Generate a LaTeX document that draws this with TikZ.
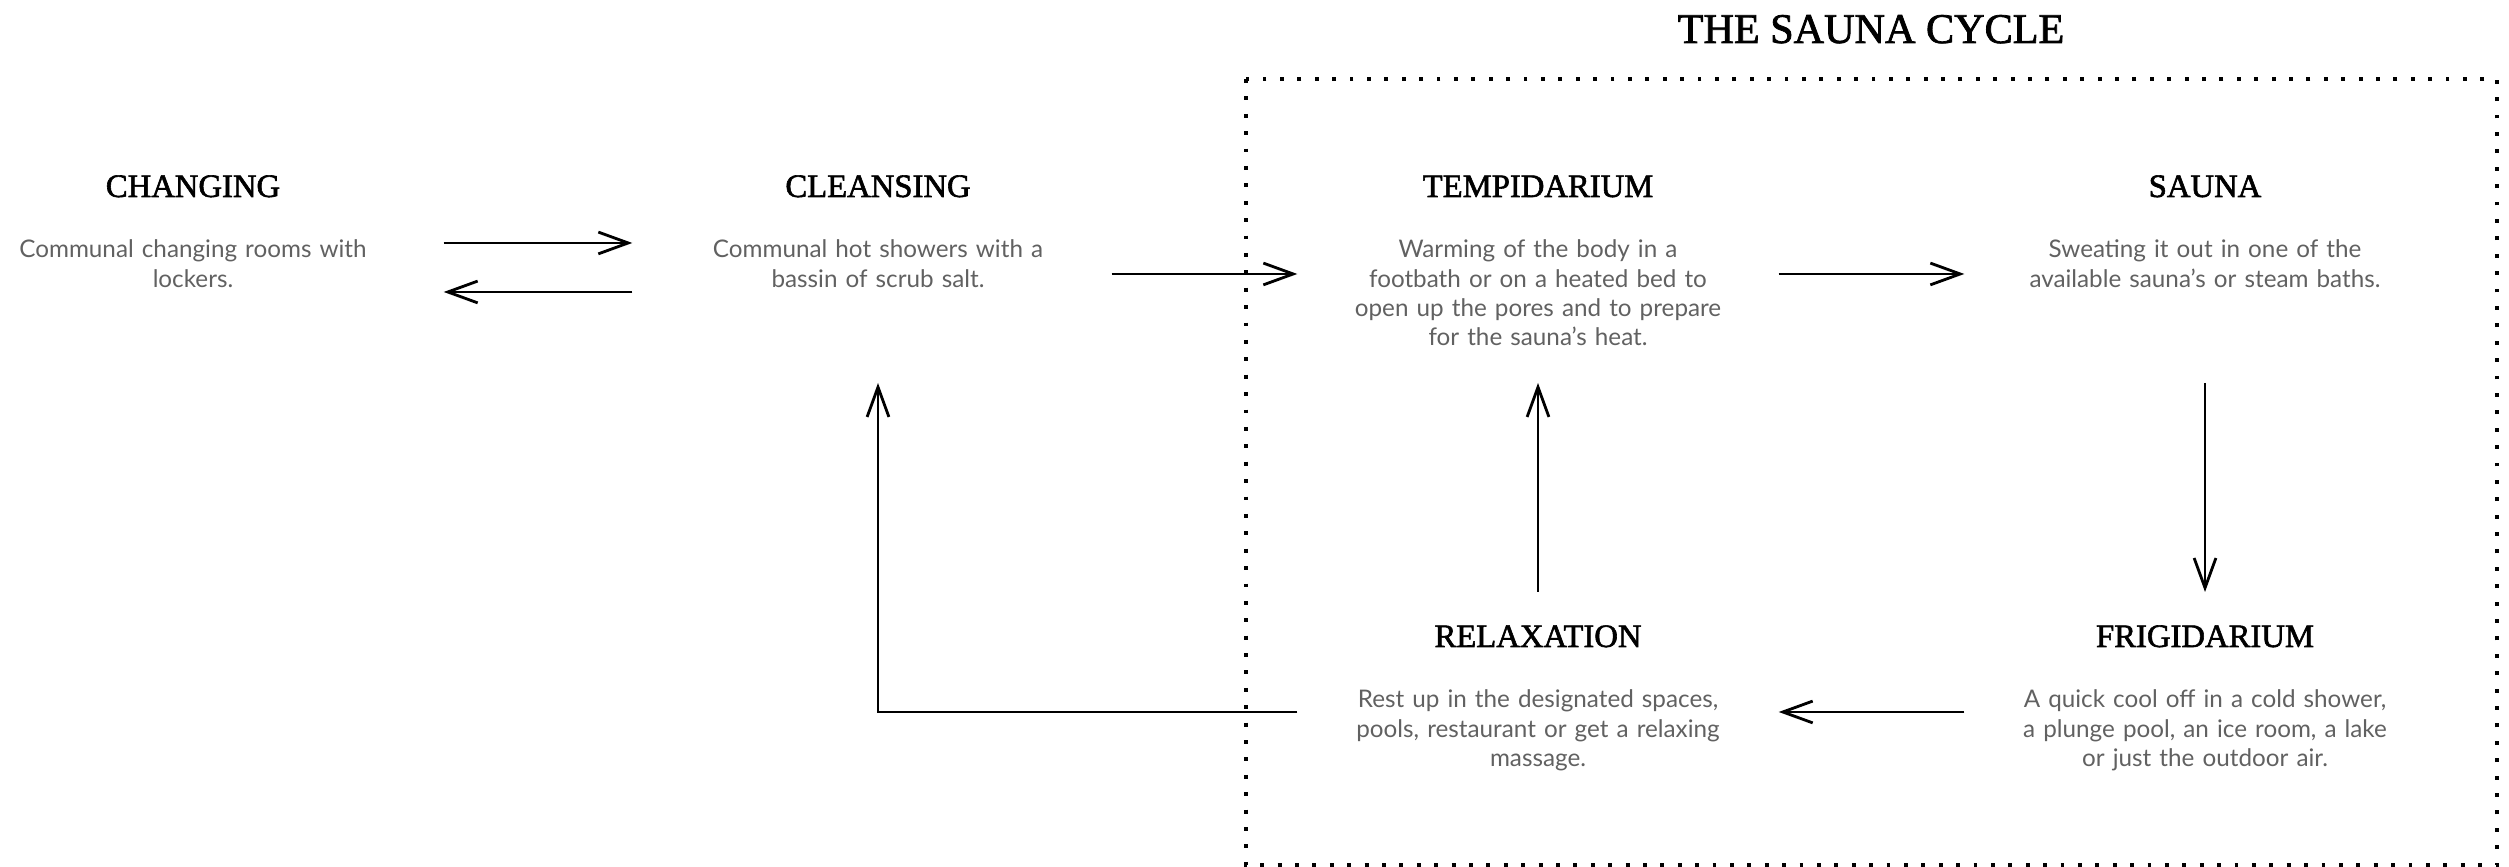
\documentclass[tikz,border=0pt]{standalone}
\usepackage{fontspec}
\usepackage{xcolor}
\usetikzlibrary{positioning,arrows.meta}
\newfontfamily\headfont[FakeBold=1.8]{Liberation Serif}
\newfontfamily\bodyfont{Lato}

\tikzset{
  head/.style={font=\headfont\fontsize{9.3pt}{11pt}\selectfont, anchor=base, inner sep=0pt},
  body/.style={font=\bodyfont\fontsize{6.9pt}{8.3pt}\selectfont, text=black!62,
    text width=4.6cm, align=center, inner xsep=0.1cm, inner ysep=0pt, anchor=base},
  flow/.style={-{Straight Barb[length=8.5pt,width=6.2pt]}, line width=0.8pt},
}

\begin{document}
\begin{tikzpicture}
  \useasboundingbox (0,0) rectangle (25.09,8.67);
  % 标题与虚线框
  \node[head, font=\headfont\fontsize{12pt}{14pt}\selectfont] (title) at (18.71,8.24) {THE SAUNA CYCLE};
  \draw[line width=1pt, dash pattern=on 1.1pt off 3.85pt] (12.46,7.88) rectangle (24.97,0.02);
  % 阶段标题
  \foreach \nm/\x/\y/\txt in {chgh/1.93/6.70/CHANGING, clnh/8.78/6.70/CLEANSING,
      tmph/15.38/6.70/TEMPIDARIUM, sauh/22.05/6.70/SAUNA,
      rlxh/15.38/2.20/RELAXATION, frgh/22.05/2.20/FRIGIDARIUM}
    \node[head] (\nm) at (\x,\y) {\txt};
  % 说明文字
  \node[below=0.61cm of chgh.base, body, text width=4.8cm] (chg) {Communal changing rooms with\\lockers.};
  \node[below=0.61cm of clnh.base, body, text width=4.7cm] (cln) {Communal hot showers with a\\bassin of scrub salt.};
  \node[below=0.61cm of tmph.base, body] (tmp) {Warming of the body in a\\footbath or on a heated bed to\\open up the pores and to prepare\\for the sauna’s heat.};
  \node[below=0.61cm of sauh.base, body] (sau) {Sweating it out in one of the\\available sauna’s or steam baths.};
  \node[below=0.61cm of rlxh.base, body] (rlx) {Rest up in the designated spaces,\\pools, restaurant or get a relaxing\\massage.};
  \node[below=0.61cm of frgh.base, body] (frg) {A quick cool off in a cold shower,\\a plunge pool, an ice room, a lake\\or just the outdoor air.};
  % 箭头的高度
  \coordinate (goin) at (0,6.24);
  \coordinate (goback) at (0,5.75);
  \coordinate (upper) at (0,5.93);
  \coordinate (lower) at (0,1.55);
  \coordinate (midtop) at (0,4.84);
  \coordinate (midbot) at (0,2.75);
  % 箭头
  \draw[flow] (chg.east |- goin) -- (cln.west |- goin);
  \draw[flow] (cln.west |- goback) -- (chg.east |- goback);
  \draw[flow] ([xshift=-1.2mm]cln.east |- upper) -- (tmp.west |- upper);
  \draw[flow] (tmp.east |- upper) -- (sau.west |- upper);
  \draw[flow] (sauh |- midtop) -- (frgh |- midbot);
  \draw[flow] (frg.west |- lower) -- (rlx.east |- lower);
  \draw[flow] (rlxh |- midbot) -- (tmph |- midtop);
  \draw[flow] (rlx.west |- lower) -| (clnh |- midtop);
\end{tikzpicture}
\end{document}
